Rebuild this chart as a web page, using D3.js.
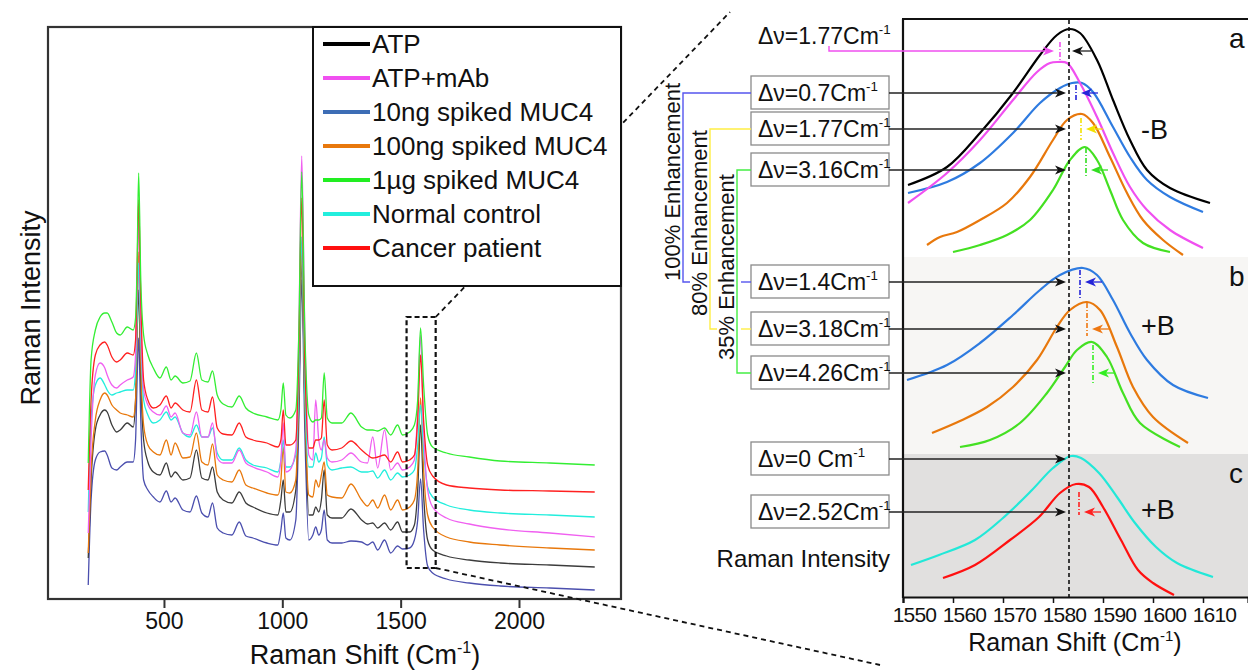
<!DOCTYPE html>
<html>
<head>
<meta charset="utf-8">
<script src="https://cdn.jsdelivr.net/npm/d3@7"></script>
<style>
body { margin: 0; background: #fff; }
text { font-family: "Liberation Sans", Arial, sans-serif; fill: #111; }
</style>
</head>
<body>
<div id="chart"></div>
<script>
// ---------- full spectra (left) : Raman shift grid + intensity (a.u.) per sample
var shifts = [180,192,210,230,250,260,280,300,315,345, 370,380,386,393,402,414,432,455,483,510,
  530,547,580,610,637,660,686,705,725,750, 787,818,846,876,935,981,994,1004,1015,1032,
  1057,1070,1082,1095,1112,1129,1141,1154,1165,1177, 1190,1210,1251,1290,1335,1360,1382,1403,1432,1458,
  1487,1508,1538,1558,1572,1584,1597,1614,1635,1694, 1790,1920,2130,2320];

var ug1 = [137,240,270,283,287,287,278,267,265,273, 270,282,330,427,320,265,245,232,222,233,
  220,224,217,219,247,220,218,229,205,196, 193,204,192,187,183,180,190,217,185,182,
  190,270,428,270,185,178,180,180,182,227, 182,177,177,187,173,170,170,169,172,165,
  175,165,168,175,200,272,215,165,153,147, 143,139,137,135];
var cancer = [110,200,245,255,258,255,243,238,240,247, 245,260,320,400,300,220,200,192,195,204,
  192,197,190,188,220,190,188,203,172,166, 165,177,163,160,157,153,160,190,155,155,
  160,250,402,240,152,152,160,160,162,200, 155,150,152,159,150,145,142,143,145,138,
  148,138,140,145,180,245,180,135,124,115, 112,110,109,108];
var normal = [88,180,215,222,215,210,205,207,208,210, 210,230,280,337,260,200,185,177,180,188,
  180,183,167,163,175,163,163,172,147,140, 140,152,140,135,132,128,140,160,133,133,
  145,220,363,210,133,133,147,138,142,163, 135,130,132,133,128,128,129,122,130,120,
  127,123,125,130,155,195,150,113,103,95, 90,87,85,83];
var atpMab = [67,160,225,237,232,225,215,212,215,220, 223,245,310,380,280,210,195,188,185,194,
  183,187,167,165,188,163,163,177,142,137, 137,150,137,133,128,123,140,177,128,130,
  150,270,444,270,145,140,200,160,150,160, 142,138,140,147,138,137,163,132,170,130,
  137,130,133,140,190,265,170,110,93,82, 76,71,67,63];
var ng100 = [47,130,180,200,207,205,195,190,187,185, 183,200,270,348,240,175,155,148,145,160,
  145,157,142,143,167,138,135,156,125,120, 118,130,115,112,107,105,120,153,108,107,
  120,210,350,200,105,103,120,113,125,138, 105,103,102,116,100,94,100,92,105,90,
  100,90,93,100,130,202,130,85,73,63, 58,55,52,50];
var atp = [42,120,170,185,190,188,175,168,170,177, 173,200,260,310,220,160,138,128,125,137,
  123,128,120,122,150,122,120,133,108,100, 97,108,97,93,87,85,100,120,88,88,
  110,200,340,200,85,85,93,88,100,130, 85,82,82,91,80,76,77,72,77,70,
  78,68,68,75,110,175,105,60,50,44, 40,37,35,33];
var ng10 = [15,100,140,148,149,145,132,130,133,138, 138,160,215,262,180,120,110,103,98,109,
  98,102,90,88,104,87,83,97,72,67, 65,78,64,62,57,55,70,87,62,60,
  80,180,320,170,60,65,73,65,70,90, 60,57,57,59,58,55,58,50,60,47,
  54,51,52,60,80,121,70,34,27,21, 17,14,12,10];

var seriesNames = ["ATP", "ATP+mAb", "10ng spiked MUC4", "100ng spiked MUC4", "1\u00b5g spiked MUC4", "Normal control", "Cancer patient"];
var legendColors = ["#000000", "#f050f0", "#3d6db5", "#e8780c", "#22ee22", "#22eedd", "#ff1010"];
var spectraColors = ["#3c3c3c", "#f060f0", "#4b4fae", "#e8780c", "#33ee33", "#22eedd", "#ff2020"];
var spectraValues = [atp, atpMab, ng10, ng100, ug1, normal, cancer];
var drawOrder = [2, 0, 3, 5, 1, 6, 4];
var xTicksLeft = [500, 1000, 1500, 2000];
var zoomWindow = {x0: 1525, x1: 1648, y0: 32, y1: 283};

// ---------- zoomed G band (right) : [shift, intensity]
var aAtp = [[1551,412],[1558.8,430],[1565.4,464],[1572,504],[1577.4,542],[1580.8,562],[1583.2,568],[1585.4,564],[1588.8,537],[1592,497],[1595.4,457],[1598.8,427],[1603.4,409],[1611.4,394]];
var aMab = [[1551,394],[1558.8,424],[1565.4,457],[1572,497],[1576.8,525],[1579.4,534],[1581,535],[1582.8,534],[1585.4,514],[1588.8,480],[1592,444],[1595.4,410],[1598.8,387],[1603.4,367],[1610,349]];
var a10 = [[1551,404],[1558.8,415],[1565.4,434],[1572,464],[1577.4,494],[1581.4,509],[1583.8,514],[1585.8,514],[1588,505],[1592,470],[1595.4,440],[1598.8,417],[1603.4,400],[1610,385]];
var a100 = [[1554.8,352],[1557.4,360],[1560.8,365],[1565.4,377],[1570.8,394],[1575.4,420],[1580,457],[1582.8,477],[1585.8,483],[1588,474],[1591.4,440],[1594.8,404],[1598,377],[1602,357],[1606,342]];
var a1ug = [[1560,345],[1565.4,352],[1570.8,362],[1575.4,377],[1580,407],[1583.4,437],[1586.4,450],[1588.8,437],[1591.4,407],[1594,377],[1598,354],[1603.4,345]];
var b10 = [[1550.8,217],[1558.8,232],[1565.4,254],[1572,282],[1577.4,307],[1581.4,322],[1586,329],[1588.8,322],[1592,297],[1595.4,264],[1598.8,237],[1604,212],[1611,199]];
var b100 = [[1555.8,164],[1561.4,176],[1566.8,190],[1572,210],[1576.8,237],[1580.8,270],[1583.4,287],[1586.8,295],[1589.4,287],[1592.8,250],[1596,210],[1600,180],[1607,154]];
var b1ug = [[1561.4,150],[1567.4,157],[1573.4,174],[1578.8,204],[1582.4,230],[1584.8,247],[1587.8,255],[1590.8,240],[1594,204],[1597.4,174],[1605.4,150]];
var cNormal = [[1551.6,32],[1557.2,42],[1564.4,57],[1570,79],[1575.8,107],[1580,129],[1583.6,141],[1585.6,139],[1589.2,124],[1592.8,100],[1596.4,74],[1600.6,50],[1604.8,34],[1612,20]];
var cCancer = [[1558,19],[1564.4,32],[1571.4,57],[1577.2,80],[1581.4,104],[1584.6,113],[1587.2,110],[1590,90],[1593.6,57],[1597,27],[1600,14],[1604.2,2]];
var zoomCurves = [
  {d: a1ug, c: "#44e022"}, {d: a100, c: "#e8780c"}, {d: a10, c: "#2e7be0"}, {d: aMab, c: "#f050f0"}, {d: aAtp, c: "#000000"},
  {d: b1ug, c: "#44e022"}, {d: b100, c: "#e8780c"}, {d: b10, c: "#2e7be0"},
  {d: cCancer, c: "#ff1010"}, {d: cNormal, c: "#22e8d8"}
];
var refShift = 1583.2;
var xTicksRight = [1550, 1560, 1570, 1580, 1590, 1600, 1610];
var panelTops = [578, 340, 143];
var panelFills = ["#ffffff", "#f7f6f4", "#e1e0df"];
var panelLetters = ["a", "b", "c"];
var panelTags = [{t: "-B", y: 458}, {t: "+B", y: 262}, {t: "+B", y: 78}];

// shift labels: y = arrow level, peak = marked peak position
var shiftRows = [
  {txt: "0.7", y: 504, peak: 1584.6, lo: 495, hi: 512, col: "#2424d8"},
  {txt: "1.77", y: 468, peak: 1585.6, lo: 457, hi: 479, col: "#f2e200"},
  {txt: "3.16", y: 427, peak: 1586.6, lo: 421, hi: 449, col: "#33dd22"},
  {txt: "1.4", y: 315, peak: 1585.4, lo: 297, hi: 327, col: "#2424d8"},
  {txt: "3.18", y: 268, peak: 1586.8, lo: 261, hi: 294, col: "#ee7711"},
  {txt: "4.26", y: 224, peak: 1588.0, lo: 212, hi: 252, col: "#33ee22"},
  {txt: "0 ", y: 138, peak: null},
  {txt: "2.52", y: 85, peak: 1585.2, lo: 82, hi: 105, col: "#ff2020"}
];
var mabRow = {txt: "1.77", y: 546, peak: 1581.4, lo: 537, hi: 555, col: "#f050f0"};
var enhancements = [
  {label: "100% Enhancement", from: 0, to: 3, col: "#5555ee"},
  {label: "80% Enhancement", from: 1, to: 4, col: "#ffee44"},
  {label: "35% Enhancement", from: 2, to: 5, col: "#44ee44"}
];

var W = 1248, H = 670;
var svg = d3.select("#chart").append("svg").attr("width", W).attr("height", H);

// ================= left panel =================
var xL = d3.scaleLinear().domain([10, 2431]).range([48, 621]);
var yL = d3.scaleLinear().domain([0, 573]).range([600, 27]);

svg.append("clipPath").attr("id", "clipL").append("rect")
  .attr("x", 49).attr("y", 28).attr("width", 571).attr("height", 570);

var lineL = d3.line().x(function(d, i) { return xL(shifts[i]); }).y(function(d) { return yL(d); })
  .curve(d3.curveMonotoneX);

var gSpec = svg.append("g").attr("clip-path", "url(#clipL)");
drawOrder.forEach(function(k) {
  gSpec.append("path").attr("d", lineL(spectraValues[k]))
    .attr("fill", "none").attr("stroke", spectraColors[k]).attr("stroke-width", 1.3);
});

svg.append("rect").attr("x", 48).attr("y", 27).attr("width", 573).attr("height", 572)
  .attr("fill", "none").attr("stroke", "#333").attr("stroke-width", 2.2);

var axL = svg.append("g").attr("transform", "translate(0,599)")
  .call(d3.axisBottom(xL).tickValues(xTicksLeft).tickSize(9).tickPadding(5).tickFormat(d3.format("d")));
axL.select(".domain").remove();
axL.selectAll("line").attr("stroke", "#333").attr("stroke-width", 2);
axL.selectAll("text").style("font-size", "23px").style("font-family", "Liberation Sans, Arial").attr("fill", "#111");

var xlab = svg.append("text").attr("x", 365).attr("y", 664).attr("text-anchor", "middle").style("font-size", "27px");
xlab.append("tspan").text("Raman Shift (Cm");
xlab.append("tspan").attr("dy", -11).style("font-size", "16px").text("-1");
xlab.append("tspan").attr("dy", 11).text(")");

svg.append("text").attr("transform", "translate(40,308) rotate(-90)").attr("text-anchor", "middle")
  .style("font-size", "27px").text("Raman Intensity");

// dashed zoom window + connectors
var zx0 = xL(zoomWindow.x0), zx1 = xL(zoomWindow.x1), zy0 = yL(zoomWindow.y0), zy1 = yL(zoomWindow.y1);
svg.append("rect").attr("x", zx0).attr("y", zy1).attr("width", zx1 - zx0).attr("height", zy0 - zy1)
  .attr("fill", "none").attr("stroke", "#111").attr("stroke-width", 2.2).attr("stroke-dasharray", "5,3");
svg.append("line").attr("x1", zx1).attr("y1", zy1).attr("x2", 730).attr("y2", 12)
  .attr("stroke", "#111").attr("stroke-width", 1.8).attr("stroke-dasharray", "5,4");
svg.append("line").attr("x1", zx1).attr("y1", zy0).attr("x2", 880).attr("y2", 665)
  .attr("stroke", "#111").attr("stroke-width", 1.8).attr("stroke-dasharray", "5,4");

// legend
var lg = svg.append("g");
lg.append("rect").attr("x", 313).attr("y", 27).attr("width", 308).attr("height", 259)
  .attr("fill", "#fff").attr("stroke", "#111").attr("stroke-width", 2);
seriesNames.forEach(function(name, i) {
  var yy = 44 + i * 34;
  lg.append("line").attr("x1", 323).attr("x2", 370).attr("y1", yy).attr("y2", yy)
    .attr("stroke", legendColors[i]).attr("stroke-width", 4);
  lg.append("text").attr("x", 372).attr("y", yy + 9).style("font-size", "26px").text(name);
});

// ================= right panel =================
var xR = d3.scaleLinear().domain([1550, 1619]).range([903, 1248]);
var yR = d3.scaleLinear().domain([0, 578]).range([597, 19]);

panelTops.forEach(function(t, i) {
  var bottom = i < panelTops.length - 1 ? panelTops[i + 1] : 0;
  svg.append("rect").attr("x", 904).attr("y", yR(t)).attr("width", 350).attr("height", yR(bottom) - yR(t))
    .attr("fill", panelFills[i]);
  svg.append("text").attr("x", 1229).attr("y", yR(t) + 29).style("font-size", "28px").text(panelLetters[i]);
});
panelTags.forEach(function(p) {
  svg.append("text").attr("x", 1141).attr("y", yR(p.y)).style("font-size", "27px").text(p.t);
});

var lineR = d3.line().x(function(d) { return xR(d[0]); }).y(function(d) { return yR(d[1]); })
  .curve(d3.curveCatmullRom.alpha(0.5));
zoomCurves.forEach(function(c) {
  svg.append("path").attr("d", lineR(c.d)).attr("fill", "none").attr("stroke", c.c).attr("stroke-width", 2.2);
});

// frame
svg.append("line").attr("x1", 903).attr("x2", 903).attr("y1", 19).attr("y2", 598).attr("stroke", "#111").attr("stroke-width", 2.2);
svg.append("line").attr("x1", 902).attr("x2", 1250).attr("y1", 19).attr("y2", 19).attr("stroke", "#111").attr("stroke-width", 2);

var axR = svg.append("g").attr("transform", "translate(0,597)")
  .call(d3.axisBottom(xR).tickValues(xTicksRight).tickSize(6).tickPadding(4).tickFormat(d3.format("d")));
axR.select(".domain").attr("stroke", "#111").attr("stroke-width", 2.2);
axR.selectAll("line").attr("stroke", "#111").attr("stroke-width", 1.5);
axR.selectAll("text").attr("dx", 11).style("font-size", "21px").style("letter-spacing", "-0.8px")
  .style("font-family", "Liberation Sans, Arial").attr("fill", "#111");

var xlabR = svg.append("text").attr("x", 1075).attr("y", 651).attr("text-anchor", "middle").style("font-size", "25px");
xlabR.append("tspan").text("Raman Shift (Cm");
xlabR.append("tspan").attr("dy", -10).style("font-size", "15px").text("-1");
xlabR.append("tspan").attr("dy", 10).text(")");
svg.append("text").attr("x", 890).attr("y", 567).attr("text-anchor", "end").style("font-size", "24px").text("Raman Intensity");

// reference peak line
svg.append("line").attr("x1", xR(refShift)).attr("x2", xR(refShift)).attr("y1", 20).attr("y2", 597)
  .attr("stroke", "#111").attr("stroke-width", 1.6).attr("stroke-dasharray", "4,3");

function headRight(x, y, col) {
  svg.append("path").attr("d", "M" + x + "," + y + "L" + (x - 11) + "," + (y - 4.5) + "L" + (x - 8) + "," + y + "L" + (x - 11) + "," + (y + 4.5) + "Z")
    .attr("fill", col);
}
function headLeft(x, y, col) {
  svg.append("path").attr("d", "M" + x + "," + y + "L" + (x + 11) + "," + (y - 4.5) + "L" + (x + 8) + "," + y + "L" + (x + 11) + "," + (y + 4.5) + "Z")
    .attr("fill", col);
}
function deltaLabel(x, y, txt, size) {
  var t = svg.append("text").attr("x", x).attr("y", y).style("font-size", size + "px");
  t.append("tspan").text("\u0394\u03bd=" + txt + "Cm");
  t.append("tspan").attr("dy", -size * 0.42).style("font-size", (size * 0.58) + "px").text("-1");
  return t;
}
function peakMark(r) {
  var px = xR(r.peak);
  svg.append("line").attr("x1", px).attr("x2", px).attr("y1", yR(r.hi)).attr("y2", yR(r.lo))
    .attr("stroke", r.col).attr("stroke-width", 1.6).attr("stroke-dasharray", "5,2,1,2");
}

var refX = xR(refShift);
var boxX = 751, boxW = 138, boxH = 33;

shiftRows.forEach(function(r) {
  var yy = yR(r.y);
  svg.append("rect").attr("x", boxX).attr("y", yy - 17).attr("width", boxW).attr("height", boxH)
    .attr("fill", "#fff").attr("stroke", "#8a8a8a").attr("stroke-width", 1.3);
  deltaLabel(boxX + 7, yy + 8, r.txt, 23);
  svg.append("line").attr("x1", boxX + boxW).attr("x2", refX - 8).attr("y1", yy).attr("y2", yy)
    .attr("stroke", "#222").attr("stroke-width", 1.3);
  headRight(refX - 3, yy, "#111");
  if (r.peak !== null) {
    peakMark(r);
    var hx = xR(r.peak) + 5;
    svg.append("line").attr("x1", hx + 8).attr("x2", hx + 17).attr("y1", yy).attr("y2", yy)
      .attr("stroke", r.col).attr("stroke-width", 1.3);
    headLeft(hx, yy, r.col);
  }
});

// ATP+mAb shift (no box)
(function() {
  var yy = yR(mabRow.y);
  deltaLabel(758, 44, mabRow.txt, 23);
  var mx = xR(mabRow.peak);
  svg.append("path").attr("d", "M829," + (yy - 5) + "V" + yy + "H" + (mx - 12))
    .attr("fill", "none").attr("stroke", mabRow.col).attr("stroke-width", 1.4);
  headRight(mx - 6, yy, mabRow.col);
  peakMark(mabRow);
  svg.append("line").attr("x1", refX + 10).attr("x2", refX + 22).attr("y1", yy).attr("y2", yy)
    .attr("stroke", "#222").attr("stroke-width", 1.3);
  headLeft(refX + 3, yy, "#111");
})();

// enhancement brackets
var bracketX = [683, 710, 737];
var textStart = [281, 316, 360];
enhancements.forEach(function(e, i) {
  var bx = bracketX[i];
  var yTop = yR(shiftRows[e.from].y), yBot = yR(shiftRows[e.to].y);
  svg.append("path").attr("d", "M" + boxX + "," + yTop + "H" + bx + "V" + yBot + "H" + (i < 2 ? bx + 7 : boxX))
    .attr("fill", "none").attr("stroke", e.col).attr("stroke-width", 1.4);
  if (i < 2) {
    svg.append("line").attr("x1", 741).attr("x2", boxX).attr("y1", yBot).attr("y2", yBot)
      .attr("stroke", e.col).attr("stroke-width", 1.4);
  }
  svg.append("text").attr("transform", "translate(" + (bx - 3) + "," + textStart[i] + ") rotate(-90)")
    .style("font-size", "22px").text(e.label);
});
</script>
</body>
</html>
